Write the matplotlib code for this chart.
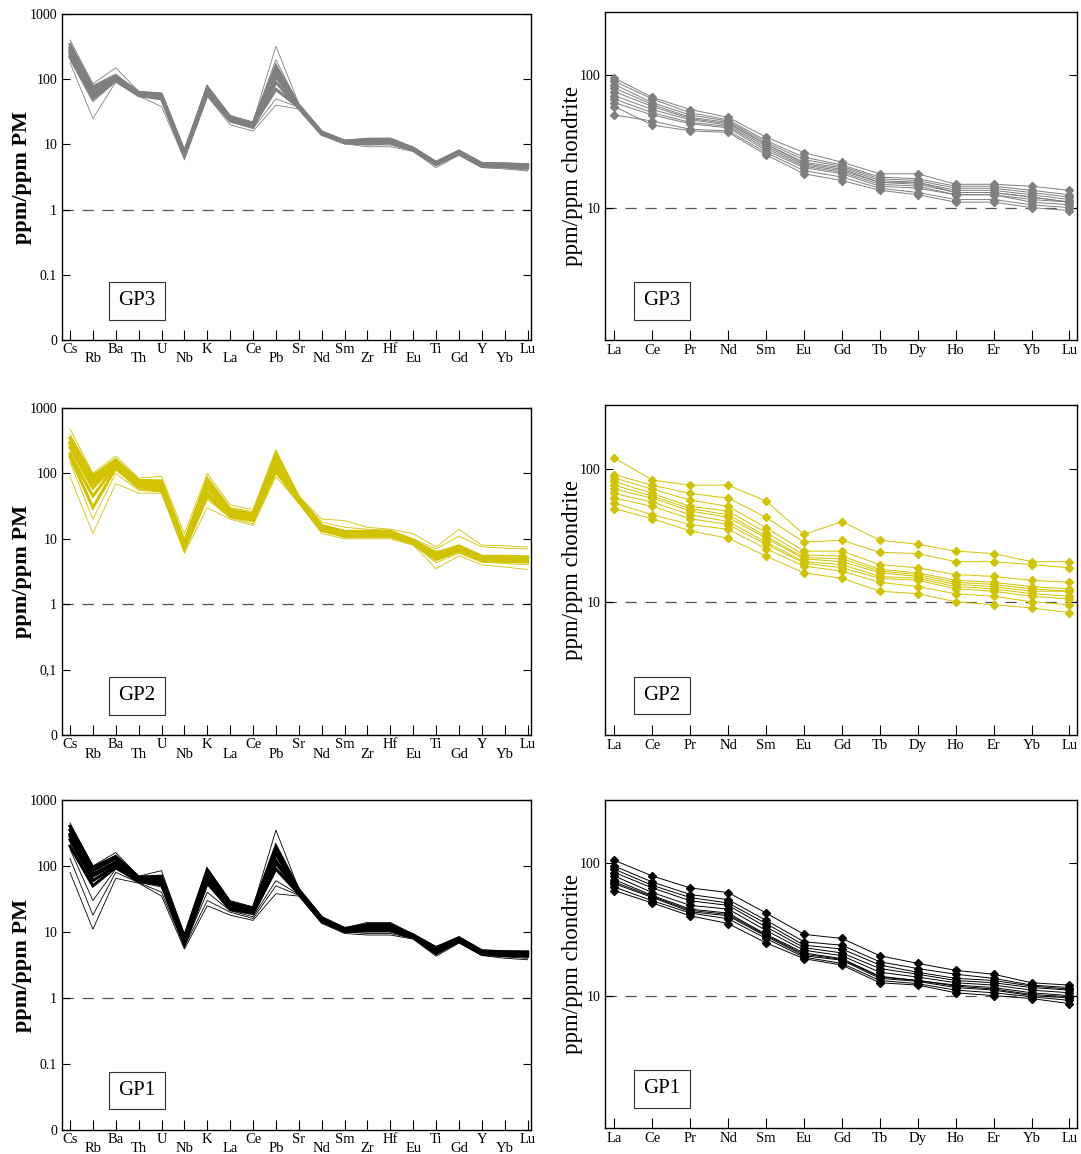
import matplotlib
matplotlib.use("Agg")
import matplotlib.pyplot as plt
import numpy as np

plt.rcParams['font.family'] = ['Liberation Serif', 'DejaVu Serif']

spider_elements = ["Cs", "Rb", "Ba", "Th", "U", "Nb", "K", "La", "Ce", "Pb", "Sr",
                   "Nd", "Sm", "Zr", "Hf", "Eu", "Ti", "Gd", "Y", "Yb", "Lu"]
ree_elements = ["La", "Ce", "Pr", "Nd", "Sm", "Eu", "Gd", "Tb", "Dy", "Ho", "Er", "Yb", "Lu"]

# ---- GP3 (primitive-mantle normalised) ----
gp3_spider = [
    [300, 65, 105, 60, 55, 7.2, 68, 25, 20, 140, 38, 15, 11, 11, 11.5, 8.5, 5.1, 7.6, 4.9, 4.8, 4.7],
    [260, 58, 100, 58, 52, 6.8, 62, 24, 19, 120, 36, 14.5, 10.8, 10.5, 11, 8.3, 5.0, 7.4, 4.7, 4.6, 4.5],
    [340, 75, 112, 63, 58, 7.6, 72, 26, 21, 160, 40, 15.5, 11.3, 11.8, 12, 8.8, 5.3, 7.9, 5.1, 5.0, 4.9],
    [220, 50, 95, 56, 50, 6.5, 58, 23, 18.5, 90, 36, 14.3, 10.5, 10.2, 10.5, 8.1, 4.9, 7.2, 4.6, 4.5, 4.3],
    [280, 70, 108, 61, 57, 7.4, 75, 26, 21, 110, 39, 15.2, 11.1, 11.2, 11.4, 8.6, 5.2, 7.7, 5.0, 4.9, 4.8],
    [240, 55, 98, 57, 53, 7.0, 64, 24.5, 19.5, 70, 37, 14.8, 10.9, 10.8, 11.2, 8.4, 5.0, 7.5, 4.8, 4.7, 4.6],
    [400, 85, 150, 65, 62, 8.5, 80, 28, 22, 320, 42, 16, 11.5, 12.5, 12.5, 9.0, 5.5, 8.2, 5.3, 5.2, 5.0],
    [180, 25, 90, 55, 38, 6.0, 55, 20, 16, 40, 35, 14, 10.2, 9.2, 9.2, 7.8, 4.4, 6.8, 4.4, 4.2, 3.9],
    [200, 45, 92, 58, 48, 6.3, 60, 22, 17.5, 50, 37, 14.5, 10.6, 9.8, 9.8, 8.0, 4.7, 7.0, 4.5, 4.4, 4.0],
    [320, 80, 120, 62, 60, 7.8, 78, 27, 22, 200, 40, 15.8, 11.4, 12.2, 12.3, 8.9, 5.4, 8.0, 5.2, 5.1, 5.0],
]
gp3_ree = [
    [70, 55, 46, 42, 29, 21, 19, 15.5, 15, 13, 13, 12, 11],
    [80, 60, 48, 44, 30, 22, 20, 16, 15.5, 13.5, 13.5, 12.5, 11.5],
    [62, 50, 43, 40, 27, 20, 18, 14.5, 14, 12.5, 12.5, 11, 10.5],
    [90, 66, 52, 46, 32, 24, 21, 17, 16.5, 14.5, 14.5, 13.5, 12.5],
    [50, 45, 39, 38, 26, 19, 17, 14, 13, 11.5, 11.5, 10.5, 10],
    [75, 58, 47, 43, 30, 21.5, 19.5, 15.5, 15.5, 13, 13, 12, 11],
    [95, 68, 55, 48, 34, 26, 22, 18, 18, 15, 15, 14.5, 13.5],
    [58, 42, 38, 37, 25, 18, 16, 13.5, 12.5, 11, 11, 10, 9.5],
    [66, 52, 44, 41, 28, 20.5, 18.5, 15, 14.5, 12.5, 12.5, 11.5, 11],
    [85, 62, 50, 45, 31, 23, 20.5, 16.5, 16, 14, 14, 13, 12],
]

# ---- GP2 ----
gp2_spider = [
    [250, 60, 140, 70, 65, 8, 60, 25, 22, 150, 40, 15, 12, 12, 12, 9, 5.5, 7, 5, 5, 5],
    [300, 80, 150, 72, 68, 8.5, 70, 26, 23, 170, 42, 15.5, 12.5, 12.5, 12.5, 9.3, 5.8, 7.4, 5.2, 5.2, 5.1],
    [200, 45, 130, 65, 60, 7.5, 50, 23, 20, 130, 38, 14, 11.5, 11.5, 11.5, 8.7, 5.2, 6.8, 4.8, 4.7, 4.6],
    [350, 90, 160, 78, 75, 9, 80, 28, 24, 200, 43, 16, 13, 13, 13, 9.5, 6, 7.8, 5.4, 5.4, 5.3],
    [280, 70, 145, 75, 70, 8.2, 65, 27, 23, 160, 41, 15.2, 12.2, 12.8, 12.2, 9.1, 6.2, 7.2, 5.1, 5.1, 5.0],
    [180, 30, 120, 60, 55, 7, 45, 22, 19, 110, 37, 13.5, 11, 11, 11, 8.5, 4.8, 6.5, 4.6, 4.5, 4.4],
    [480, 100, 185, 85, 90, 12, 100, 33, 28, 230, 45, 20, 19, 15, 14, 12, 7.5, 14, 8, 7.8, 7.5],
    [90, 12, 70, 50, 50, 6, 30, 20, 16, 90, 35, 12, 10, 10, 10, 8, 3.5, 5.5, 4, 3.7, 3.4],
    [150, 20, 100, 55, 52, 6.5, 40, 21, 17, 100, 36, 13, 10.5, 10.5, 10.5, 8.2, 4.3, 6.0, 4.4, 4.2, 4.0],
    [400, 95, 170, 80, 80, 10, 90, 30, 26, 180, 44, 18, 15, 14, 13.5, 10, 7, 11, 7.5, 7.2, 7],
]
gp2_ree = [
    [70, 60, 48, 43, 30, 21, 20, 16.5, 15.5, 13.5, 13, 12, 12],
    [120, 82, 75, 75, 57, 32, 40, 29, 27, 24, 23, 20, 20],
    [50, 42, 34, 30, 22, 16.5, 15, 12, 11.5, 10, 9.5, 9, 8.3],
    [90, 75, 65, 60, 43, 28, 29, 23.5, 23, 20, 20, 19, 18],
    [80, 65, 52, 48, 33, 22.5, 22, 17.5, 16.5, 14.5, 14, 13, 12.5],
    [60, 52, 42, 38, 27, 19.5, 18, 15, 14.5, 12.5, 12, 11, 10.5],
    [75, 62, 50, 45, 31, 21.5, 21, 17, 16, 14, 13.5, 12.5, 12],
    [55, 45, 38, 35, 25, 18.5, 17, 14, 13, 11.5, 11, 10, 9.5],
    [85, 70, 58, 52, 36, 24, 24, 19, 18, 16, 15.5, 14.5, 14],
    [65, 56, 45, 40, 28, 20, 19, 15.5, 15, 13, 12.5, 11.5, 11],
]

# ---- GP1 ----
gp1_spider = [
    [250, 60, 100, 60, 55, 7, 60, 23, 20, 120, 40, 15, 10.5, 11, 11, 8.5, 5, 7.5, 4.8, 4.6, 4.5],
    [300, 75, 115, 63, 60, 7.5, 75, 25, 21, 150, 42, 15.5, 11, 12, 12, 8.8, 5.3, 7.8, 5, 4.8, 4.8],
    [200, 50, 95, 58, 52, 6.5, 55, 22, 19, 90, 38, 14.5, 10.2, 10.5, 10.5, 8.2, 4.8, 7.2, 4.6, 4.4, 4.3],
    [350, 85, 130, 65, 65, 8, 85, 27, 22, 180, 43, 16, 11.2, 12.5, 12.5, 9, 5.6, 8, 5.1, 5, 4.9],
    [280, 70, 110, 62, 58, 7.2, 70, 24, 21, 110, 41, 15.2, 10.8, 11.5, 11.5, 8.6, 5.1, 7.6, 4.9, 4.7, 4.6],
    [400, 95, 140, 68, 70, 8.5, 88, 28, 23, 200, 44, 16.5, 11.3, 13, 13, 9, 5.8, 8.2, 5.2, 5.0, 5.0],
    [450, 100, 160, 70, 85, 9, 90, 30, 24, 350, 45, 17, 11.5, 14, 14, 9.2, 6, 8.3, 5.2, 5.1, 5.0],
    [80, 11, 65, 55, 35, 5.5, 25, 18, 15, 38, 35, 13.5, 9.5, 9, 9, 7.8, 4.3, 6.8, 4.4, 4.0, 3.8],
    [130, 18, 80, 56, 40, 6, 30, 20, 16, 50, 36, 14, 10, 9.5, 9.5, 8, 4.5, 7, 4.5, 4.2, 4.0],
    [180, 30, 90, 57, 48, 6.2, 40, 21, 17, 60, 37, 14.2, 10, 10, 10, 8.1, 4.6, 7.1, 4.5, 4.3, 4.2],
]
gp1_ree = [
    [75, 57, 45, 42, 29, 21, 19, 14, 13, 12, 11.5, 10.5, 10],
    [105, 80, 65, 60, 42, 29, 27, 20, 17.5, 15.5, 14.5, 12.5, 12],
    [62, 50, 40, 35, 25, 19, 17, 12.5, 12, 10.5, 10, 9.5, 8.7],
    [85, 65, 52, 48, 33, 23, 21, 16, 14.5, 13, 12.5, 11.5, 11],
    [70, 55, 43, 40, 28, 20, 18.5, 13.5, 12.8, 11.5, 11, 10, 9.6],
    [95, 72, 58, 53, 37, 25.5, 24, 18, 16, 14.5, 13.5, 12, 11.5],
    [66, 52, 42, 38, 27, 19.5, 17.5, 13, 12.3, 11, 10.5, 9.8, 9.2],
    [80, 60, 48, 45, 31, 22, 20, 15, 13.8, 12.5, 12, 11, 10.5],
    [72, 56, 44, 41, 28.5, 20.5, 18.8, 13.8, 13, 11.8, 11.2, 10.2, 9.8],
    [90, 68, 55, 50, 35, 24, 22.5, 17, 15, 13.5, 13, 11.8, 11.2],
]

groups = ["GP3", "GP2", "GP1"]
colors = ["#7f7f7f", "#d2c300", "#000000"]
spider_sets = [gp3_spider, gp2_spider, gp1_spider]
ree_sets = [gp3_ree, gp2_ree, gp1_ree]
pm_tick_labels = [["0", "0.1", "1", "10", "100", "1000"],
                  ["0", "0,1", "1", "10", "100", "1000"],
                  ["0", "0.1", "1", "10", "100", "1000"]]

W, H = 1081, 1154
fig = plt.figure(figsize=(W / 100, H / 100), dpi=100)

left_boxes = [(62, 14, 531, 340), (62, 408, 531, 735), (62, 800, 531, 1130)]
right_boxes = [(605, 12, 1077, 340), (605, 405, 1077, 735), (605, 800, 1077, 1128)]

def add_ax(box):
    x0, y0, x1, y1 = box
    return fig.add_axes([x0 / W, 1 - y1 / H, (x1 - x0) / W, (y1 - y0) / H])

for i in range(3):
    col = colors[i]
    # ---------- spider diagram ----------
    ax = add_ax(left_boxes[i])
    xs = np.arange(len(spider_elements))
    for j, s in enumerate(spider_sets[i]):
        ax.plot(xs, s, color=col, lw=2.2 if j < 6 else 0.6, zorder=2 if j < 6 else 3,
                solid_joinstyle="miter")
    ax.axhline(1, color="#555555", lw=0.9, dashes=(9, 7), zorder=1)
    ax.set_yscale("log")
    ax.set_ylim(0.01, 1000)
    ax.set_xlim(-0.35, 20.15)
    ax.set_yticks([0.01, 0.1, 1, 10, 100, 1000])
    ax.set_yticklabels(pm_tick_labels[i])
    ax.yaxis.set_minor_locator(matplotlib.ticker.NullLocator())
    ax.set_xticks(xs[0::2])
    ax.set_xticklabels(spider_elements[0::2])
    ax.set_xticks(xs[1::2], minor=True)
    ax.set_xticklabels(spider_elements[1::2], minor=True)
    ax.tick_params(axis="x", which="major", direction="in", length=7, pad=2, labelsize=10.5, width=0.8)
    ax.tick_params(axis="x", which="minor", direction="in", length=7, pad=9, labelsize=10.5, width=0.8)
    ax.tick_params(axis="y", which="major", direction="in", length=6, labelsize=10, right=True, width=0.8)
    ax.set_ylabel("ppm/ppm PM", fontsize=16, fontweight="bold")
    ax.yaxis.set_label_coords(-0.064, 0.5)
    ax.text(0.16, 0.12, groups[i], transform=ax.transAxes, fontsize=15,
            ha="center", va="center",
            bbox=dict(boxstyle="square,pad=0.45", fc="white", ec="#333333", lw=0.8))
    for sp in ax.spines.values():
        sp.set_linewidth(1.0)

    # ---------- REE diagram ----------
    ax = add_ax(right_boxes[i])
    xr = np.arange(len(ree_elements))
    for j, r in enumerate(ree_sets[i]):
        ax.plot(xr, r, color=col, lw=0.7, marker="D", ms=4.5, mec=col, mfc=col, zorder=2)
    ax.axhline(10, color="#555555", lw=0.9, dashes=(9, 7), zorder=1)
    ax.set_yscale("log")
    ax.set_ylim(1, 300)
    ax.set_xlim(-0.25, 12.2)
    ax.set_yticks([10, 100])
    ax.set_yticklabels(["10", "100"])
    ax.yaxis.set_minor_locator(matplotlib.ticker.NullLocator())
    ax.set_xticks(xr)
    ax.set_xticklabels(ree_elements)
    ax.tick_params(axis="x", direction="in", length=7, pad=3, labelsize=10.5, width=0.8)
    ax.tick_params(axis="y", direction="in", length=6, labelsize=10, right=True, width=0.8)
    ax.set_ylabel("ppm/ppm chondrite", fontsize=16.5)
    ax.yaxis.set_label_coords(-0.047, 0.5)
    ax.text(0.12, 0.12, groups[i], transform=ax.transAxes, fontsize=15,
            ha="center", va="center",
            bbox=dict(boxstyle="square,pad=0.45", fc="white", ec="#333333", lw=0.8))
    for sp in ax.spines.values():
        sp.set_linewidth(1.0)

fig.savefig("out.png", dpi=100)
